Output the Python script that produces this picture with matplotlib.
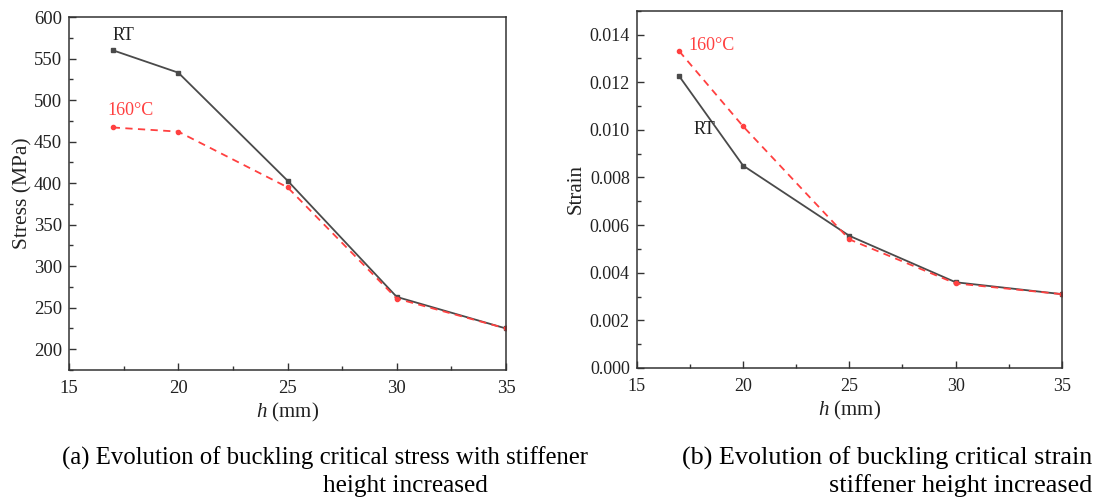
import matplotlib
matplotlib.use("Agg")
import matplotlib.pyplot as plt
from matplotlib.ticker import MultipleLocator, FormatStrFormatter

plt.rcParams['font.family'] = ['Liberation Serif', 'DejaVu Serif']
plt.rcParams['mathtext.fontset'] = 'custom'
plt.rcParams['mathtext.rm'] = 'Liberation Serif'
plt.rcParams['mathtext.it'] = 'Liberation Serif:italic'

h = [17, 20, 25, 30, 35]
stress_rt = [560, 533, 403, 263, 225]
stress_160 = [467, 462, 395, 261, 225]
strain_rt = [0.01225, 0.0085, 0.00555, 0.0036, 0.0031]
strain_160 = [0.0133, 0.01015, 0.0054, 0.00355, 0.0031]

cap_a = ["(a) Evolution of buckling critical stress with stiffener", "height increased"]
cap_b = ["(b) Evolution of buckling critical strain", "stiffener height increased"]

RT_C = '#4a4a4a'
HOT_C = '#ff4040'
AX_C = '#333333'
TXT_C = '#222222'

fig = plt.figure(figsize=(10.94, 5.0), dpi=100)
ax1 = fig.add_axes([0.0631, 0.26, 0.3994, 0.706])
ax2 = fig.add_axes([0.582, 0.264, 0.3887, 0.7146])

def style(ax, fs):
    for s in ax.spines.values():
        s.set_color(AX_C)
        s.set_linewidth(1.1)
    ax.tick_params(which='both', direction='in', top=False, right=False,
                   color=AX_C, labelsize=fs, labelcolor=TXT_C)
    ax.tick_params(axis='x', which='major', pad=7)
    ax.tick_params(axis='y', which='major', pad=5)
    ax.tick_params(which='major', length=5, width=1.0)
    ax.tick_params(which='minor', length=3, width=1.0)
    ax.set_xlim(15, 35)
    ax.xaxis.set_major_locator(MultipleLocator(5))
    ax.xaxis.set_minor_locator(MultipleLocator(2.5))
    ax.set_xlabel('$h$ (mm)', fontsize=15, labelpad=3, color=TXT_C)

style(ax1, 13.5)
ax1.plot(h, stress_rt, color=RT_C, lw=1.3, marker='s', ms=3)
ax1.plot(h, stress_160, color=HOT_C, lw=1.3, ls=(0, (4, 3)), marker='o', ms=3)
ax1.set_ylim(175, 600)
ax1.yaxis.set_major_locator(MultipleLocator(50))
ax1.yaxis.set_minor_locator(MultipleLocator(25))
ax1.set_ylabel('Stress (MPa)', fontsize=15.5, labelpad=1, color=TXT_C)
ax1.text(17, 578, 'RT', fontsize=13, color=TXT_C, va='center', ha='left')
ax1.text(16.74, 487, '160°C', fontsize=13, color=HOT_C, va='center', ha='left')

style(ax2, 13)
ax2.plot(h, strain_rt, color=RT_C, lw=1.3, marker='s', ms=3)
ax2.plot(h, strain_160, color=HOT_C, lw=1.3, ls=(0, (4, 3)), marker='o', ms=3)
ax2.set_ylim(0, 0.015)
ax2.yaxis.set_major_locator(MultipleLocator(0.002))
ax2.yaxis.set_minor_locator(MultipleLocator(0.001))
ax2.yaxis.set_major_formatter(FormatStrFormatter('%.3f'))
ax2.set_ylabel('Strain', fontsize=15, labelpad=3, color=TXT_C)
ax2.text(17.41, 0.01353, '160°C', fontsize=13, color=HOT_C, va='center', ha='left')
ax2.text(17.65, 0.0100, 'RT', fontsize=13, color=TXT_C, va='center', ha='left')

fig.text(62 / 1094, 1 - 458 / 500, cap_a[0], fontsize=17.8, ha='left', va='center', color='black')
fig.text(323 / 1094, 1 - 486 / 500, cap_a[1], fontsize=18.2, ha='left', va='center', color='black')
fig.text(682 / 1094, 1 - 458 / 500, cap_b[0], fontsize=18.8, ha='left', va='center', color='black')
fig.text(1092 / 1094, 1 - 486 / 500, cap_b[1], fontsize=18.8, ha='right', va='center', color='black')

fig.savefig('out.png', dpi=100)
